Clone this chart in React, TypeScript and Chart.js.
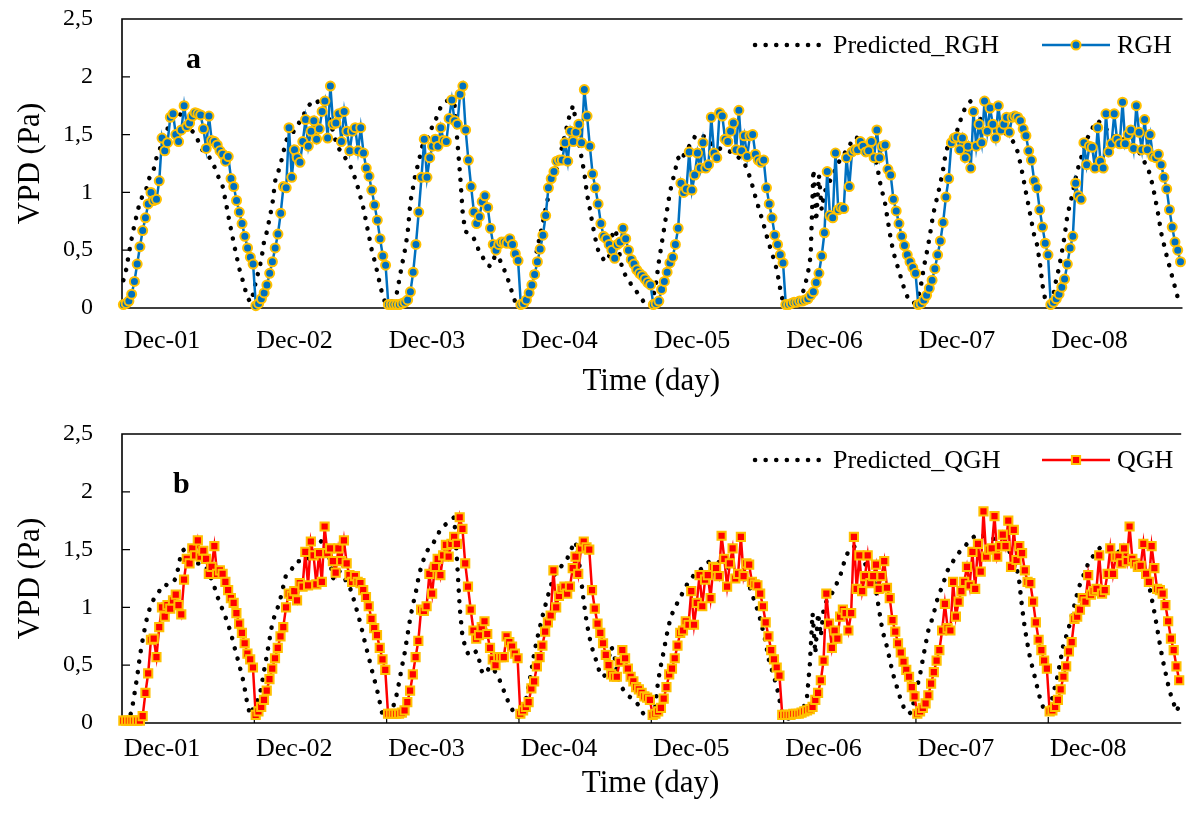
import React, { useEffect, useRef } from "react";
import { Chart, registerables } from "chart.js";

Chart.register(...registerables);

const FONT = '"Liberation Serif", "Times New Roman", Times, serif';

// ---------- data ----------
const dayLabels = ["Dec-01", "Dec-02", "Dec-03", "Dec-04", "Dec-05", "Dec-06", "Dec-07", "Dec-08"];
const pointsPerDay = 48; // half-hourly readings
const dayLabelOffset = 14; // index inside each day where Excel put the day label
const yTickValues = [0, 0.5, 1, 1.5, 2, 2.5];

const rghPredicted = [
  0.24, 0.33, 0.47, 0.6, 0.72, 0.82, 0.92, 0.97, 1.0, 1.1, 1.16, 1.2, 1.3, 1.36, 1.43, 1.5, 1.55, 1.62, 1.65, 1.67, 1.68, 1.67, 1.62, 1.58, 1.56, 1.53, 1.5, 1.45, 1.4, 1.35, 1.33, 1.31, 1.27, 1.22, 1.16, 1.1, 1.05, 0.93, 0.8, 0.68, 0.56, 0.45, 0.34, 0.26, 0.17, 0.09, 0.05, 0.12,
  0.23, 0.32, 0.42, 0.58, 0.66, 0.78, 0.9, 1.1, 1.17, 1.25, 1.35, 1.45, 1.48, 1.5, 1.54, 1.57, 1.62, 1.66, 1.7, 1.75, 1.77, 1.79, 1.8, 1.76, 1.72, 1.68, 1.65, 1.62, 1.52, 1.44, 1.38, 1.35, 1.31, 1.28, 1.24, 1.18, 1.12, 1.04, 0.95, 0.86, 0.74, 0.62, 0.5, 0.41, 0.31, 0.2, 0.1, 0.04,
  0.03, 0.05, 0.08, 0.12, 0.25, 0.38, 0.5, 0.65, 0.92, 1.05, 1.18, 1.26, 1.38, 1.44, 1.47, 1.5, 1.58, 1.62, 1.68, 1.74, 1.77, 1.79, 1.8, 1.79, 1.75, 1.44, 1.15, 0.8, 0.66, 0.65, 0.63, 0.6, 0.55, 0.48, 0.45, 0.4, 0.37, 0.36, 0.42, 0.46, 0.43, 0.39, 0.33, 0.27, 0.2, 0.12, 0.05, 0.03,
  0.04, 0.06, 0.1, 0.17, 0.28, 0.4, 0.52, 0.63, 0.74, 0.86, 0.97, 1.05, 1.12, 1.2, 1.3, 1.4, 1.5, 1.6, 1.7, 1.75, 1.6, 1.44, 1.3, 1.17, 0.98, 0.86, 0.72, 0.6, 0.5, 0.45, 0.42, 0.4, 0.45, 0.62, 0.68, 0.62, 0.42, 0.32, 0.28, 0.25, 0.2, 0.17, 0.14, 0.1, 0.07, 0.04, 0.03, 0.03,
  0.1, 0.22, 0.4, 0.55, 0.7, 0.85, 1.0, 1.1, 1.2, 1.3, 1.27, 1.32, 1.37, 1.4, 1.43, 1.48, 1.5, 1.5, 1.49, 1.47, 1.44, 1.42, 1.4, 1.38, 1.38, 1.37, 1.37, 1.36, 1.35, 1.33, 1.32, 1.3, 1.28, 1.25, 1.2, 1.13, 1.05, 0.96, 0.88, 0.8, 0.72, 0.63, 0.55, 0.47, 0.4, 0.3, 0.16, 0.05,
  0.03, 0.03, 0.04, 0.05, 0.06, 0.08, 0.12, 0.2, 0.3, 0.45, 1.2, 0.75, 1.15, 0.85, 1.0, 1.05, 1.1, 1.15, 1.2, 1.25, 1.3, 1.33, 1.36, 1.4, 1.45, 1.48, 1.47, 1.45, 1.42, 1.4, 1.38, 1.35, 1.3, 1.25, 1.1, 1.0, 0.9, 0.75, 0.6, 0.48, 0.4, 0.32, 0.24, 0.16, 0.1, 0.06, 0.04, 0.05,
  0.1, 0.2, 0.35, 0.47, 0.6, 0.75, 0.88, 0.97, 1.08, 1.2, 1.35, 1.42, 1.45, 1.5, 1.53, 1.6, 1.68, 1.73, 1.77, 1.79, 1.76, 1.7, 1.65, 1.62, 1.6, 1.6, 1.6, 1.59, 1.58, 1.56, 1.55, 1.55, 1.5, 1.47, 1.45, 1.42, 1.35, 1.25, 1.13, 1.0, 0.88, 0.75, 0.63, 0.55, 0.4, 0.2, 0.07, 0.04,
  0.05, 0.12, 0.25, 0.35, 0.48, 0.62, 0.8, 0.9, 1.0, 1.12, 1.22, 1.3, 1.38, 1.46, 1.5, 1.55, 1.6, 1.62, 1.6, 1.57, 1.55, 1.52, 1.5, 1.48, 1.48, 1.47, 1.47, 1.46, 1.44, 1.42, 1.4, 1.38, 1.35, 1.3, 1.26, 1.22, 1.15, 1.05, 0.93, 0.8, 0.65, 0.55, 0.45, 0.36, 0.27, 0.18, 0.09, 0.05,
];

const rghMeasured = [
  0.03, 0.04, 0.06, 0.12, 0.23, 0.38, 0.53, 0.67, 0.78, 0.9, 1.0, 0.93, 0.94, 1.1, 1.47, 1.36, 1.43, 1.65, 1.68, 1.5, 1.44, 1.54, 1.75, 1.57, 1.6, 1.66, 1.69, 1.68, 1.67, 1.55, 1.38, 1.66, 1.45, 1.44, 1.41, 1.36, 1.33, 1.27, 1.31, 1.12, 1.05, 0.93, 0.83, 0.73, 0.62, 0.52, 0.44, 0.38,
  0.02, 0.04, 0.08, 0.13, 0.2, 0.3, 0.4, 0.52, 0.64, 0.82, 1.05, 1.04, 1.56, 1.13, 1.37, 1.3, 1.26, 1.44, 1.63, 1.4, 1.53, 1.62, 1.46, 1.55, 1.7, 1.79, 1.47, 1.92, 1.59, 1.6, 1.68, 1.44, 1.7, 1.53, 1.36, 1.53, 1.56, 1.36, 1.56, 1.34, 1.21, 1.14, 1.02, 0.89, 0.76, 0.6, 0.45, 0.37,
  0.03, 0.03, 0.03, 0.03, 0.03, 0.04, 0.05, 0.07, 0.14, 0.31, 0.55, 0.83, 1.13, 1.46, 1.13, 1.3, 1.4, 1.46, 1.4, 1.56, 1.45, 1.44, 1.64, 1.8, 1.62, 1.59, 1.85, 1.92, 1.54, 1.28, 1.05, 0.83, 0.73, 0.79, 0.92, 0.97, 0.87, 0.69, 0.55, 0.5, 0.55, 0.57, 0.57, 0.56, 0.6, 0.55, 0.47, 0.41,
  0.03, 0.04, 0.07, 0.13, 0.2, 0.29, 0.4, 0.51, 0.63, 0.8, 1.04, 1.12, 1.18, 1.27, 1.28, 1.28, 1.43, 1.27, 1.53, 1.44, 1.52, 1.59, 1.43, 1.89, 1.66, 1.4, 1.16, 1.04, 0.9, 0.73, 0.62, 0.6, 0.55, 0.5, 0.43, 0.55, 0.57, 0.69, 0.6, 0.5, 0.42, 0.38, 0.33, 0.3, 0.28, 0.25, 0.22, 0.2,
  0.03, 0.04, 0.06, 0.16, 0.23, 0.31, 0.39, 0.44, 0.55, 0.69, 1.08, 1.0, 1.03, 1.35, 1.02, 1.15, 1.34, 1.21, 1.43, 1.21, 1.24, 1.65, 1.34, 1.3, 1.69, 1.66, 1.46, 1.44, 1.53, 1.6, 1.37, 1.71, 1.36, 1.49, 1.31, 1.49, 1.5, 1.33, 1.28, 1.26, 1.28, 1.04, 0.9, 0.78, 0.63, 0.55, 0.46, 0.39,
  0.03, 0.03, 0.04, 0.05, 0.05, 0.06, 0.06, 0.07, 0.08, 0.11, 0.14, 0.22, 0.3, 0.45, 0.65, 1.18, 0.8, 0.78, 1.34, 0.85, 0.87, 0.86, 1.3, 1.05, 1.35, 1.37, 1.37, 1.44, 1.4, 1.35, 1.36, 1.44, 1.3, 1.54, 1.3, 1.4, 1.41, 1.2, 1.15, 0.94, 0.84, 0.73, 0.62, 0.54, 0.46, 0.4, 0.35, 0.3,
  0.03, 0.04, 0.07, 0.11, 0.17, 0.24, 0.34, 0.46, 0.58, 0.74, 0.96, 1.12, 1.43, 1.47, 1.48, 1.37, 1.47, 1.3, 1.4, 1.21, 1.7, 1.4, 1.59, 1.43, 1.79, 1.53, 1.73, 1.59, 1.47, 1.75, 1.54, 1.59, 1.65, 1.52, 1.65, 1.66, 1.65, 1.62, 1.55, 1.49, 1.36, 1.28, 1.1, 1.04, 0.85, 0.7, 0.56, 0.46,
  0.03, 0.05, 0.08, 0.12, 0.18, 0.25, 0.38, 0.52, 0.62, 1.08, 0.97, 0.94, 1.43, 1.24, 1.4, 1.39, 1.21, 1.56, 1.27, 1.21, 1.68, 1.35, 1.42, 1.68, 1.46, 1.42, 1.78, 1.42, 1.5, 1.54, 1.38, 1.75, 1.52, 1.37, 1.63, 1.37, 1.5, 1.31, 1.3, 1.33, 1.24, 1.13, 1.03, 0.85, 0.7, 0.57, 0.5, 0.4,
];

const qghPredicted = [
  0.03, 0.03, 0.04, 0.1, 0.25, 0.4, 0.58, 0.72, 0.85, 0.95, 1.02, 1.07, 1.1, 1.14, 1.18, 1.2, 1.19, 1.2, 1.22, 1.25, 1.35, 1.48, 1.5, 1.46, 1.43, 1.4, 1.39, 1.38, 1.38, 1.37, 1.35, 1.3, 1.24, 1.18, 1.1, 1.04, 0.98, 0.92, 0.85, 0.78, 0.68, 0.6, 0.5, 0.42, 0.3, 0.16, 0.07, 0.12,
  0.15, 0.22, 0.3, 0.45, 0.58, 0.72, 0.86, 0.94, 1.0, 1.08, 1.18, 1.28, 1.3, 1.33, 1.36, 1.4, 1.4, 1.4, 1.41, 1.42, 1.44, 1.47, 1.5, 1.55, 1.58, 1.56, 1.5, 1.4, 1.25, 1.28, 1.32, 1.3, 1.26, 1.22, 1.18, 1.12, 1.03, 0.95, 0.86, 0.76, 0.66, 0.57, 0.47, 0.38, 0.29, 0.18, 0.07, 0.05,
  0.08, 0.1, 0.15, 0.23, 0.35, 0.48, 0.6, 0.75, 0.9, 1.02, 1.12, 1.25, 1.35, 1.42, 1.48, 1.52, 1.54, 1.58, 1.62, 1.68, 1.7, 1.72, 1.74, 1.76, 1.78, 1.42, 1.0, 0.75, 0.66, 0.6, 0.58, 0.6, 0.62, 0.55, 0.45, 0.42, 0.45, 0.49, 0.47, 0.44, 0.4, 0.34, 0.28, 0.22, 0.16, 0.12, 0.06, 0.05,
  0.06, 0.1, 0.2, 0.32, 0.45, 0.6, 0.72, 0.82, 0.92, 1.01, 1.1, 1.18, 1.27, 1.3, 1.33, 1.36, 1.39, 1.42, 1.48, 1.53, 1.57, 1.45, 1.25, 1.05, 0.88, 0.75, 0.65, 0.58, 0.5, 0.42, 0.4, 0.42, 0.55, 0.66, 0.6, 0.45, 0.35, 0.3, 0.27, 0.24, 0.22, 0.2, 0.18, 0.15, 0.1, 0.07, 0.05, 0.05,
  0.06, 0.15, 0.37, 0.5, 0.62, 0.75, 0.86, 0.94, 1.0, 1.04, 1.09, 1.13, 1.18, 1.22, 1.25, 1.28, 1.3, 1.32, 1.34, 1.36, 1.39, 1.4, 1.4, 1.4, 1.39, 1.37, 1.36, 1.35, 1.34, 1.33, 1.32, 1.31, 1.29, 1.26, 1.23, 1.19, 1.12, 1.05, 0.98, 0.9, 0.8, 0.7, 0.56, 0.48, 0.4, 0.32, 0.2, 0.08,
  0.05, 0.04, 0.04, 0.05, 0.06, 0.08, 0.1, 0.15, 0.23, 0.5, 0.95, 0.6, 0.95, 0.75, 0.98, 1.05, 1.08, 1.12, 1.16, 1.22, 1.27, 1.35, 1.44, 1.48, 1.5, 1.53, 1.5, 1.48, 1.44, 1.38, 1.33, 1.3, 1.27, 1.15, 1.0, 0.85, 0.74, 0.66, 0.55, 0.44, 0.36, 0.28, 0.2, 0.14, 0.1, 0.08, 0.1, 0.22,
  0.32, 0.42, 0.55, 0.68, 0.8, 0.87, 0.95, 1.05, 1.12, 1.18, 1.25, 1.32, 1.36, 1.4, 1.44, 1.47, 1.5, 1.52, 1.55, 1.57, 1.6, 1.62, 1.63, 1.63, 1.62, 1.62, 1.61, 1.6, 1.59, 1.57, 1.55, 1.54, 1.52, 1.5, 1.46, 1.42, 1.35, 1.22, 1.0, 0.82, 0.68, 0.55, 0.46, 0.36, 0.26, 0.17, 0.12, 0.1,
  0.12, 0.22, 0.32, 0.42, 0.55, 0.68, 0.75, 0.83, 0.92, 1.02, 1.12, 1.2, 1.26, 1.32, 1.38, 1.42, 1.45, 1.48, 1.51, 1.53, 1.53, 1.52, 1.52, 1.51, 1.5, 1.48, 1.46, 1.45, 1.44, 1.43, 1.42, 1.41, 1.38, 1.35, 1.31, 1.27, 1.2, 1.08, 0.96, 0.82, 0.68, 0.55, 0.44, 0.33, 0.24, 0.17, 0.1, 0.15,
];

const qghMeasured = [
  0.02, 0.02, 0.02, 0.02, 0.02, 0.02, 0.02, 0.06, 0.26, 0.43, 0.72, 0.73, 0.57, 0.83, 1.0, 0.92, 1.02, 0.99, 1.06, 1.11, 1.02, 0.94, 1.24, 1.42, 1.38, 1.51, 1.45, 1.58, 1.44, 1.49, 1.42, 1.29, 1.35, 1.53, 1.29, 1.32, 1.29, 1.22, 1.15, 1.08, 1.04, 0.95, 0.86, 0.78, 0.69, 0.6, 0.55, 0.48,
  0.07, 0.1, 0.14, 0.2, 0.28, 0.38, 0.47, 0.56, 0.65, 0.75, 0.83, 1.0, 1.12, 1.1, 1.14, 1.06, 1.21, 1.18, 1.48, 1.19, 1.57, 1.45, 1.2, 1.47, 1.22, 1.7, 1.47, 1.51, 1.4, 1.3, 1.51, 1.4, 1.58, 1.38, 1.28, 1.22, 1.27, 1.22, 1.21, 1.15, 1.09, 1.01, 0.9, 0.82, 0.76, 0.65, 0.55, 0.46,
  0.08, 0.08, 0.08, 0.08, 0.08, 0.09, 0.11, 0.18, 0.28, 0.42, 0.57, 0.71, 0.98, 0.97, 1.01, 1.29, 1.12, 1.35, 1.42, 1.28, 1.45, 1.54, 1.44, 1.55, 1.61, 1.55, 1.78, 1.68, 1.38, 1.18, 0.98, 0.8, 0.73, 0.76, 0.83, 0.88, 0.77, 0.65, 0.55, 0.5, 0.57, 0.57, 0.57, 0.75, 0.7, 0.66, 0.6, 0.56,
  0.08, 0.11, 0.14, 0.18, 0.3, 0.36, 0.49, 0.57, 0.67, 0.79, 0.87, 0.93, 1.32, 1.0, 1.1, 1.16, 1.18, 1.12, 1.18, 1.34, 1.44, 1.29, 1.51, 1.57, 1.52, 1.5, 1.15, 0.99, 0.86, 0.78, 0.69, 0.59, 0.5, 0.42, 0.4, 0.4, 0.53, 0.63, 0.56, 0.47, 0.4, 0.36, 0.31, 0.29, 0.26, 0.23, 0.22, 0.2,
  0.07, 0.08, 0.1, 0.13, 0.21, 0.31, 0.42, 0.47, 0.56, 0.67, 0.78, 0.8, 0.88, 0.85, 1.14, 0.85, 1.04, 1.28, 1.01, 1.24, 1.28, 1.08, 1.35, 1.34, 1.27, 1.62, 1.42, 1.18, 1.38, 1.51, 1.25, 1.29, 1.61, 1.27, 1.38, 1.37, 1.22, 1.2, 1.19, 1.12, 1.01, 0.87, 0.75, 0.63, 0.55, 0.48, 0.41, 0.07,
  0.07, 0.07, 0.07, 0.08, 0.08, 0.08, 0.09, 0.1, 0.11, 0.12, 0.14, 0.2, 0.26, 0.37, 0.54, 1.12, 0.86, 0.65, 0.8, 0.73, 0.92, 0.98, 0.95, 0.8, 0.95, 1.61, 1.16, 1.45, 1.14, 1.27, 1.45, 1.21, 1.27, 1.37, 1.16, 1.27, 1.4, 1.17, 1.08, 0.89, 0.79, 0.69, 0.61, 0.53, 0.46, 0.4, 0.31, 0.23,
  0.08, 0.1, 0.13, 0.17, 0.24, 0.34, 0.44, 0.54, 0.63, 0.8, 1.03, 0.82, 0.8, 1.22, 0.92, 1.05, 1.14, 1.22, 1.35, 1.19, 1.48, 1.16, 1.55, 1.31, 1.83, 1.44, 1.5, 1.51, 1.79, 1.44, 1.53, 1.63, 1.53, 1.75, 1.35, 1.67, 1.41, 1.53, 1.47, 1.32, 1.22, 1.21, 1.05, 0.87, 0.72, 0.63, 0.54, 0.47,
  0.1, 0.11, 0.14, 0.2, 0.29, 0.4, 0.49, 0.62, 0.7, 0.9, 0.92, 0.98, 1.08, 1.05, 1.28, 1.11, 1.14, 1.16, 1.45, 1.12, 1.15, 1.29, 1.51, 1.29, 1.44, 1.44, 1.38, 1.51, 1.4, 1.7, 1.42, 1.38, 1.35, 1.36, 1.55, 1.29, 1.22, 1.53, 1.34, 1.16, 1.15, 1.12, 1.02, 0.88, 0.73, 0.63, 0.49, 0.37,
];

// ---------- helpers ----------
const toPoints = (values: number[]) => values.map((y, x) => ({ x, y }));
const lastIndex = rghMeasured.length - 1;

const framePlugin = {
  id: "frame",
  beforeDatasetsDraw(chart: any) {
    const { ctx, chartArea: a, scales } = chart;
    ctx.save();
    ctx.strokeStyle = "#000";
    ctx.lineWidth = 1.6;
    ctx.beginPath();
    ctx.moveTo(a.right + 2, a.top);
    ctx.lineTo(a.left, a.top);
    ctx.lineTo(a.left, a.bottom);
    ctx.lineTo(a.right + 2, a.bottom);
    ctx.stroke();
    ctx.lineWidth = 1.2;
    ctx.beginPath();
    for (const v of yTickValues) {
      if (v <= 0 || v >= 2.5) continue;
      const py = scales.y.getPixelForValue(v);
      ctx.moveTo(a.left, py);
      ctx.lineTo(a.left + 8, py);
    }
    for (let k = 1; k <= dayLabels.length; k++) {
      const px = scales.x.getPixelForValue(pointsPerDay * k - 0.5);
      if (px > a.right) continue;
      ctx.moveTo(px, a.bottom);
      ctx.lineTo(px, a.bottom - 6);
    }
    ctx.stroke();
    ctx.restore();
  },
};

function drawMarker(ctx: any, ds: any, x: number, y: number) {
  ctx.save();
  ctx.fillStyle = ds.pointBackgroundColor;
  ctx.strokeStyle = ds.pointBorderColor;
  ctx.lineWidth = ds.pointBorderWidth;
  ctx.beginPath();
  if (ds.pointStyle === "rect") {
    const s = Math.SQRT1_2 * ds.pointRadius;
    ctx.rect(x - s, y - s, 2 * s, 2 * s);
  } else {
    ctx.arc(x, y, ds.pointRadius, 0, Math.PI * 2);
  }
  ctx.fill();
  ctx.stroke();
  ctx.restore();
}

const legendPlugin = {
  id: "panelLegend",
  afterDatasetsDraw(chart: any, _args: any, opts: any) {
    const { ctx } = chart;
    const [pred, meas] = chart.data.datasets;
    const y = opts.y;
    ctx.save();
    ctx.strokeStyle = pred.borderColor;
    ctx.lineWidth = pred.borderWidth;
    ctx.lineCap = "round";
    ctx.setLineDash(pred.borderDash);
    ctx.beginPath();
    ctx.moveTo(opts.predX, y);
    ctx.lineTo(opts.predX + opts.sample, y);
    ctx.stroke();
    ctx.setLineDash([]);
    ctx.fillStyle = "#000";
    ctx.font = `26px ${FONT}`;
    ctx.textBaseline = "middle";
    ctx.textAlign = "left";
    ctx.fillText(pred.label, opts.predX + opts.sample + 10, y + 1);
    ctx.strokeStyle = meas.borderColor;
    ctx.lineWidth = meas.borderWidth;
    ctx.lineCap = "butt";
    ctx.beginPath();
    ctx.moveTo(opts.measX, y);
    ctx.lineTo(opts.measX + opts.sample, y);
    ctx.stroke();
    drawMarker(ctx, meas, opts.measX + opts.sample / 2, y);
    ctx.fillStyle = "#000";
    ctx.fillText(meas.label, opts.measX + opts.sample + 7, y + 1);
    ctx.font = `bold 30px ${FONT}`;
    ctx.textBaseline = "alphabetic";
    ctx.fillText(opts.tag, opts.tagX, opts.tagY);
    ctx.restore();
  },
};

type PanelSpec = {
  tag: string;
  tagX: number;
  tagY: number;
  predLabel: string;
  measLabel: string;
  predicted: number[];
  measured: number[];
  color: string;
  pointStyle: string;
  pointRadius: number;
  height: number;
  xTickPad: number;
  xTitlePad: number;
};

function makeConfig(p: PanelSpec): any {
  const plotBottom = 308;
  return {
    type: "line",
    data: {
      datasets: [
        {
          label: p.predLabel,
          data: toPoints(p.predicted),
          borderColor: "#000000",
          borderWidth: 4.5,
          borderDash: [0.1, 10.5],
          borderCapStyle: "round",
          pointRadius: 0,
          tension: 0,
          fill: false,
          clip: false,
          order: 2,
        },
        {
          label: p.measLabel,
          data: toPoints(p.measured),
          borderColor: p.color,
          borderWidth: 2.5,
          pointStyle: p.pointStyle,
          pointRadius: p.pointRadius,
          pointBackgroundColor: p.color,
          pointBorderColor: "#FFC000",
          pointBorderWidth: 2,
          tension: 0,
          fill: false,
          clip: false,
          order: 1,
        },
      ],
    },
    options: {
      animation: false,
      responsive: false,
      maintainAspectRatio: false,
      events: [],
      layout: { padding: { top: 19, right: 0, bottom: 0, left: 0 } },
      plugins: {
        legend: { display: false },
        tooltip: { enabled: false },
        panelLegend: {
          y: 45,
          predX: 755,
          measX: 1042,
          sample: 68,
          tag: p.tag,
          tagX: p.tagX,
          tagY: p.tagY,
        },
      },
      scales: {
        x: {
          type: "linear",
          min: -0.5,
          max: lastIndex,
          grid: { display: false, drawTicks: false },
          border: { display: false },
          afterBuildTicks: (s: any) => {
            s.ticks = dayLabels.map((_, k) => ({ value: k * pointsPerDay + dayLabelOffset }));
          },
          afterFit: (s: any) => {
            s.height = p.height - plotBottom;
            s.paddingLeft = 0;
            s.paddingRight = 0;
          },
          ticks: {
            autoSkip: false,
            maxRotation: 0,
            padding: p.xTickPad,
            color: "#000",
            font: { family: FONT, size: 26 },
            callback: (v: number) => dayLabels[Math.round((v - dayLabelOffset) / pointsPerDay)],
          },
          title: {
            display: true,
            text: "Time (day)",
            color: "#000",
            font: { family: FONT, size: 31 },
            padding: { top: 0, bottom: p.xTitlePad },
          },
        },
        y: {
          type: "linear",
          min: 0,
          max: 2.5,
          grid: { display: false, drawTicks: false },
          border: { display: false },
          afterBuildTicks: (s: any) => {
            s.ticks = yTickValues.map((v) => ({ value: v }));
          },
          afterFit: (s: any) => {
            s.width = 122;
            s.paddingTop = 0;
            s.paddingBottom = 0;
          },
          ticks: {
            padding: 29,
            color: "#000",
            font: { family: FONT, size: 24 },
            callback: (v: number) => String(v).replace(".", ","),
          },
          title: {
            display: true,
            text: "VPD (Pa)",
            color: "#000",
            font: { family: FONT, size: 31 },
            padding: { top: 12, bottom: 0 },
          },
        },
      },
    },
    plugins: [framePlugin, legendPlugin],
  };
}

const panelA: PanelSpec = {
  tag: "a",
  tagX: 186,
  tagY: 68,
  predLabel: "Predicted_RGH",
  measLabel: "RGH",
  predicted: rghPredicted,
  measured: rghMeasured,
  color: "#0070C0",
  pointStyle: "circle",
  pointRadius: 4.5,
  height: 408,
  xTickPad: 18,
  xTitlePad: 8,
};

const panelB: PanelSpec = {
  tag: "b",
  tagX: 173,
  tagY: 78,
  predLabel: "Predicted_QGH",
  measLabel: "QGH",
  predicted: qghPredicted,
  measured: qghMeasured,
  color: "#FF0000",
  pointStyle: "rect",
  pointRadius: 5.8,
  height: 401,
  xTickPad: 11,
  xTitlePad: 14,
};

function Panel({ spec, top }: { spec: PanelSpec; top: number }) {
  const ref = useRef<HTMLCanvasElement | null>(null);
  useEffect(() => {
    if (!ref.current) return;
    const chart = new Chart(ref.current, makeConfig(spec));
    return () => chart.destroy();
  }, [spec]);
  return (
    <canvas
      ref={ref}
      width={1187}
      height={spec.height}
      style={{ position: "absolute", left: 0, top, width: 1187, height: spec.height, display: "block" }}
    />
  );
}

export default function App() {
  return (
    <div
      style={{
        position: "fixed",
        left: 0,
        top: 0,
        width: 1187,
        height: 816,
        background: "#fff",
        overflow: "hidden",
      }}
    >
      <Panel spec={panelA} top={0} />
      <Panel spec={panelB} top={415} />
    </div>
  );
}
